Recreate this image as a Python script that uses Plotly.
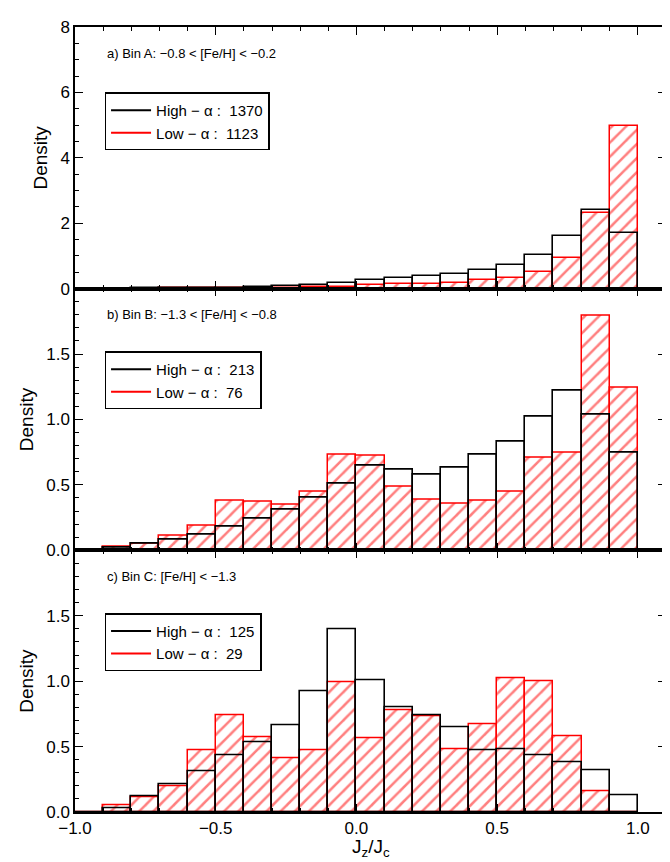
import plotly.graph_objects as go
from plotly.subplots import make_subplots

# bin centres, width 0.1
bin_centers = [round(-0.95 + 0.1 * i, 2) for i in range(20)]

high_a = [0.0, 0.0, 0.01, 0.01, 0.02, 0.03, 0.05, 0.07, 0.1, 0.17,
          0.28, 0.32, 0.38, 0.45, 0.56, 0.72, 1.04, 1.6, 2.42, 1.7]
low_a = [0.0, 0.0, 0.0, 0.01, 0.01, 0.01, 0.02, 0.03, 0.04, 0.06,
         0.1, 0.13, 0.14, 0.18, 0.25, 0.33, 0.5, 0.95, 2.3, 4.97]

high_b = [0.0, 0.02, 0.05, 0.08, 0.12, 0.18, 0.24, 0.31, 0.40, 0.51,
          0.65, 0.62, 0.58, 0.63, 0.73, 0.83, 1.02, 1.22, 1.04, 0.75]
low_b = [0.0, 0.03, 0.05, 0.11, 0.19, 0.38, 0.37, 0.35, 0.45, 0.73,
         0.72, 0.49, 0.39, 0.36, 0.38, 0.45, 0.71, 0.75, 1.79, 1.24]

high_c = [0.0, 0.03, 0.12, 0.21, 0.31, 0.43, 0.53, 0.66, 0.92, 1.40,
          1.01, 0.80, 0.74, 0.65, 0.47, 0.48, 0.43, 0.38, 0.32, 0.13]
low_c = [0.0, 0.05, 0.11, 0.20, 0.47, 0.74, 0.57, 0.41, 0.47, 0.99,
         0.56, 0.78, 0.73, 0.48, 0.67, 1.02, 1.00, 0.58, 0.16, 0.0]

panel_titles = ["a) Bin A: \u22120.8 < [Fe/H] < \u22120.2",
                "b) Bin B: \u22121.3 < [Fe/H] < \u22120.8",
                "c) Bin C: [Fe/H] < \u22121.3"]
high_counts = [1370, 213, 125]
low_counts = [1123, 76, 29]
y_max = [8, 2.0, 2.0]

fig = make_subplots(rows=3, cols=1, shared_xaxes=True, vertical_spacing=0)

panels = [(high_a, low_a), (high_b, low_b), (high_c, low_c)]
for i, (hi, lo) in enumerate(panels):
    r = i + 1
    leg = "legend" if i == 0 else f"legend{r}"
    fig.add_trace(go.Bar(x=bin_centers, y=lo, width=0.1, showlegend=False,
                         marker=dict(color="white", line=dict(color="red", width=1.5),
                                     pattern=dict(shape="/", fgcolor="red", bgcolor="white",
                                                  size=10, solidity=0.25))),
                  row=r, col=1)
    fig.add_trace(go.Bar(x=bin_centers, y=hi, width=0.1, showlegend=False,
                         marker=dict(color="rgba(0,0,0,0)", line=dict(color="black", width=1.6))),
                  row=r, col=1)
    fig.add_trace(go.Scatter(x=[None], y=[None], mode="lines", line=dict(color="black", width=2),
                             name=f"High \u2212 \u03b1 :  {high_counts[i]}", legend=leg),
                  row=r, col=1)
    fig.add_trace(go.Scatter(x=[None], y=[None], mode="lines", line=dict(color="red", width=2),
                             name=f"Low \u2212 \u03b1 :  {low_counts[i]}", legend=leg),
                  row=r, col=1)

axis_style = dict(showline=True, linecolor="black", linewidth=1.5, mirror="ticks",
                  ticks="inside", ticklen=8, tickcolor="black", showgrid=False,
                  minor=dict(ticks="inside", ticklen=4, tickcolor="black"),
                  tickfont=dict(size=17, color="black"))

for i in range(3):
    r = i + 1
    fig.update_yaxes(range=[0, y_max[i]], row=r, col=1, zeroline=False,
                     title=dict(text="Density", font=dict(size=19, color="black"), standoff=8),
                     **axis_style)
    fig.update_xaxes(range=[-1.0, 1.1], row=r, col=1, **axis_style)

fig.update_yaxes(tickvals=[0, 2, 4, 6, 8], minor=dict(dtick=0.5), row=1, col=1)
fig.update_yaxes(tickvals=[0, 0.5, 1.0, 1.5], ticktext=["0.0", "0.5", "1.0", "1.5"],
                 minor=dict(dtick=0.1), row=2, col=1)
fig.update_yaxes(tickvals=[0, 0.5, 1.0, 1.5], ticktext=["0.0", "0.5", "1.0", "1.5"],
                 minor=dict(dtick=0.1), row=3, col=1)
fig.update_xaxes(tickvals=[-1.0, -0.5, 0.0, 0.5, 1.0],
                 ticktext=["\u22121.0", "\u22120.5", "0.0", "0.5", "1.0"],
                 minor=dict(dtick=0.1), tickfont=dict(size=17, color="black"))

fig.add_annotation(text="J<sub>z</sub>/J<sub>c</sub>", xref="x domain", yref="paper",
                   x=0.5, y=0, yshift=-22, xanchor="center", yanchor="top",
                   showarrow=False, font=dict(size=19, color="black"))

fig.update_layout(barmode="overlay", bargap=0)

for i in range(3):
    yref = "y domain" if i == 0 else f"y{i + 1} domain"
    fig.add_annotation(text=panel_titles[i], xref="x domain", yref=yref, x=0.05, y=0.9,
                       xanchor="left", yanchor="middle", showarrow=False,
                       font=dict(size=13, color="black"))

leg_common = dict(x=0.05, xanchor="left", yanchor="top", bgcolor="white",
                  bordercolor="black", borderwidth=1.5, font=dict(size=15, color="black"),
                  itemwidth=40, tracegroupgap=0)
doms = [fig.layout.yaxis.domain, fig.layout.yaxis2.domain, fig.layout.yaxis3.domain]
fig.update_layout(
    legend=dict(y=doms[0][0] + 0.75 * (doms[0][1] - doms[0][0]), **leg_common),
    legend2=dict(y=doms[1][0] + 0.76 * (doms[1][1] - doms[1][0]), **leg_common),
    legend3=dict(y=doms[2][0] + 0.76 * (doms[2][1] - doms[2][0]), **leg_common),
)

fig.update_layout(width=670, height=862, margin=dict(l=67, r=10, t=12, b=58),
                  plot_bgcolor="white", paper_bgcolor="white",
                  font=dict(family="Liberation Sans, Arial", color="black"))

fig.write_html("out.html")
